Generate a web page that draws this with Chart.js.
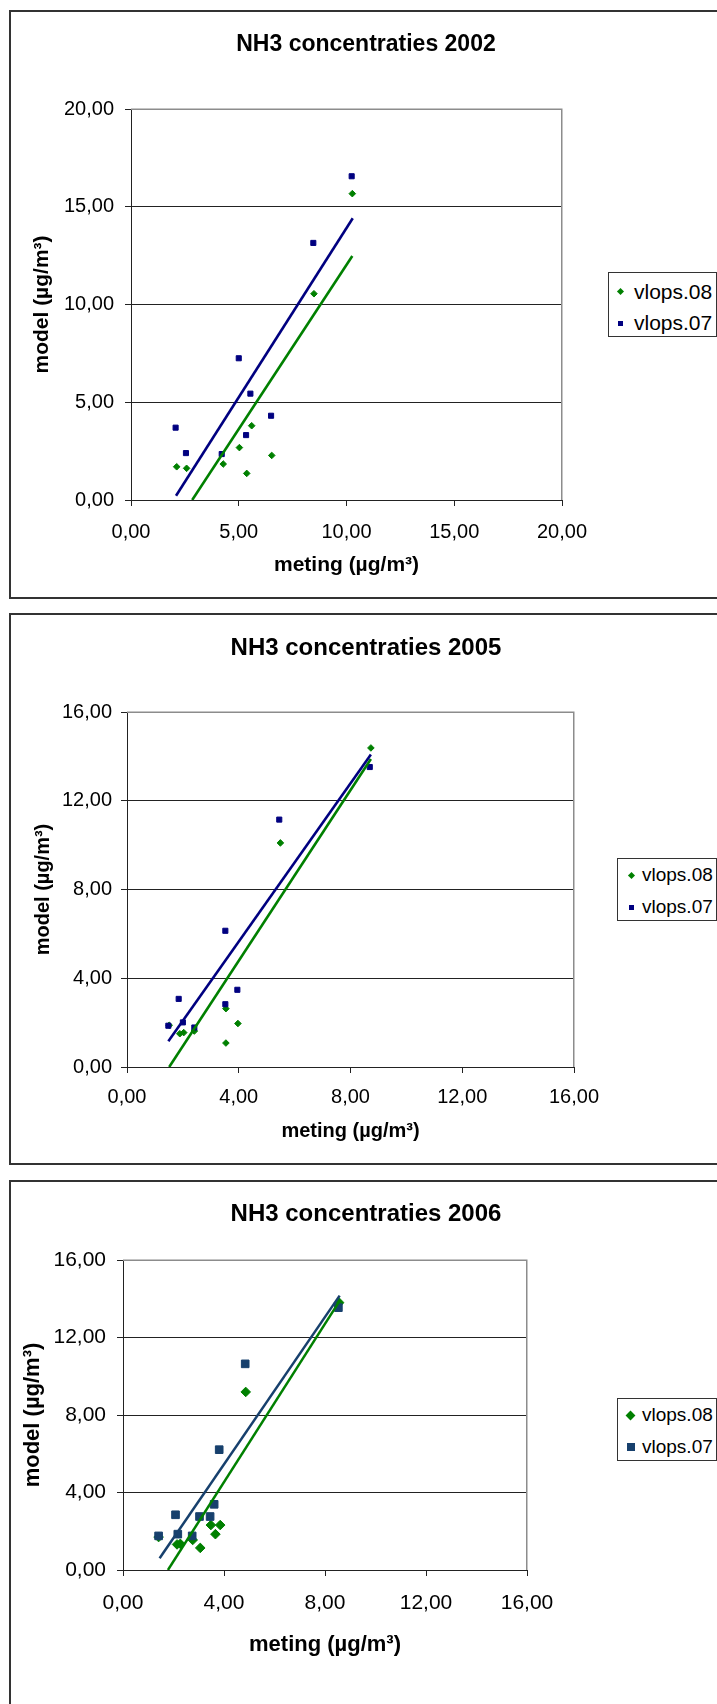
<!DOCTYPE html>
<html><head><meta charset="utf-8">
<script src="https://cdn.jsdelivr.net/npm/chart.js@4.4.1/dist/chart.umd.min.js"></script>
<style>
html,body{margin:0;padding:0;background:#fff;}
body{width:717px;height:1704px;overflow:hidden;position:relative;font-family:"Liberation Sans",Arial,sans-serif;color:#000;}
.frame{position:absolute;left:9px;width:740px;border:2px solid #333;box-sizing:border-box;}
canvas{position:absolute;left:0;}
.title{position:absolute;left:0;width:732px;text-align:center;font-weight:bold;white-space:nowrap;line-height:28px;height:28px;}
.legend{position:absolute;border:1px solid #333;box-sizing:border-box;background:#fff;}
.row{position:absolute;white-space:nowrap;line-height:24px;height:24px;}
.mk{position:absolute;}
</style>
</head><body>

<div class="frame" style="top:10px;height:589px;"></div>
<div class="frame" style="top:613px;height:552px;"></div>
<div class="frame" style="top:1180px;height:560px;"></div>

<canvas id="c2002" width="717" height="600" style="top:0px"></canvas>
<canvas id="c2005" width="717" height="570" style="top:600px"></canvas>
<canvas id="c2006" width="717" height="534" style="top:1170px"></canvas>

<div class="title" style="top:29px;font-size:23px;">NH3 concentraties 2002</div>
<div class="title" style="top:633px;font-size:24px;">NH3 concentraties 2005</div>
<div class="title" style="top:1199px;font-size:24px;">NH3 concentraties 2006</div>

<div class="legend" style="left:608px;top:272px;width:109px;height:65px;font-size:21px;">
  <div class="mk" style="left:9px;top:16px;width:5px;height:5px;background:#008000;transform:rotate(45deg);"></div>
  <div class="row" style="left:25px;top:7px;">vlops.08</div>
  <div class="mk" style="left:9px;top:48px;width:5px;height:5px;background:#000080;"></div>
  <div class="row" style="left:25px;top:38px;">vlops.07</div>
</div>
<div class="legend" style="left:617px;top:858px;width:100px;height:63px;font-size:19px;">
  <div class="mk" style="left:11px;top:14px;width:5px;height:5px;background:#008000;transform:rotate(45deg);"></div>
  <div class="row" style="left:24px;top:4px;">vlops.08</div>
  <div class="mk" style="left:11px;top:46px;width:5px;height:5px;background:#000080;"></div>
  <div class="row" style="left:24px;top:36px;">vlops.07</div>
</div>
<div class="legend" style="left:617px;top:1398px;width:100px;height:63px;font-size:19px;">
  <div class="mk" style="left:9px;top:13px;width:7px;height:7px;background:#008000;transform:rotate(45deg);"></div>
  <div class="row" style="left:24px;top:4px;">vlops.08</div>
  <div class="mk" style="left:9px;top:44px;width:8px;height:8px;background:#17406D;"></div>
  <div class="row" style="left:24px;top:36px;">vlops.07</div>
</div>

<script>
// ---------- DATA ----------
const seriesNames = ['vlops.08', 'vlops.07'];

// 2002
const x08_2002 = [2.12, 2.58, 4.28, 5.03, 5.37, 5.60, 6.53, 8.49, 10.27];
const y08_2002 = [1.70, 1.62, 1.84, 2.68, 1.36, 3.80, 2.28, 10.55, 15.67];
const x07_2002 = [2.07, 2.55, 4.21, 5.00, 5.34, 5.54, 6.50, 8.46, 10.24];
const y07_2002 = [3.70, 2.40, 2.35, 7.25, 3.32, 5.44, 4.31, 13.15, 16.56];
const trendX08_2002 = [2.84, 10.27];
const trendY08_2002 = [0.00, 12.48];
const trendX07_2002 = [2.09, 10.29];
const trendY07_2002 = [0.22, 14.41];
const ticks2002 = ['0,00', '5,00', '10,00', '15,00', '20,00'];

// 2005
const x08_2005 = [1.51, 1.89, 2.03, 2.41, 3.54, 3.54, 3.97, 5.49, 8.73];
const y08_2005 = [1.88, 1.50, 1.55, 1.62, 2.63, 1.08, 1.96, 10.10, 14.38];
const x07_2005 = [1.48, 1.85, 2.00, 2.41, 3.52, 3.52, 3.95, 5.45, 8.69];
const y07_2005 = [1.86, 3.07, 2.01, 1.78, 6.14, 2.83, 3.48, 11.15, 13.52];
const trendX08_2005 = [1.51, 8.73];
const trendY08_2005 = [0.00, 13.88];
const trendX07_2005 = [1.48, 8.73];
const trendY07_2005 = [1.16, 14.08];
const ticks2005 = ['0,00', '4,00', '8,00', '12,00', '16,00'];

// 2006
const x08_2006 = [1.41, 2.14, 2.27, 2.76, 3.06, 3.48, 3.66, 3.85, 4.86, 8.56];
const y08_2006 = [1.70, 1.32, 1.35, 1.55, 1.14, 2.32, 1.85, 2.32, 9.19, 13.80];
const x07_2006 = [1.41, 2.08, 2.17, 2.74, 3.03, 3.45, 3.61, 3.81, 4.84, 8.53];
const y07_2006 = [1.76, 2.85, 1.85, 1.76, 2.76, 2.76, 3.39, 6.21, 10.64, 13.54];
const trendX08_2006 = [1.78, 8.58];
const trendY08_2006 = [0.00, 13.89];
const trendX07_2006 = [1.45, 8.58];
const trendY07_2006 = [0.61, 14.16];
const ticks2006 = ['0,00', '4,00', '8,00', '12,00', '16,00'];

const xTitle = 'meting (µg/m³)';
const yTitle = 'model (µg/m³)';

// ---------- DRAWING ----------
Chart.defaults.font.family = '"Liberation Sans", Arial, sans-serif';
Chart.defaults.color = '#000';

function pts(xs, ys) { return xs.map((x, i) => ({x: x, y: ys[i]})); }

const borderPlugin = {
  id: 'plotBorder',
  afterDraw(chart) {
    const a = chart.chartArea, c = chart.ctx;
    c.save();
    c.strokeStyle = '#8c8c8c';
    c.lineWidth = 1.5;
    c.beginPath();
    c.moveTo(a.left, a.top + 0.25);
    c.lineTo(a.right - 0.25, a.top + 0.25);
    c.lineTo(a.right - 0.25, a.bottom);
    c.stroke();
    c.restore();
  }
};

function makeChart(id, o) {
  const canvas = document.getElementById(id);
  const H = canvas.height;
  const axisCommon = {
    type: 'linear', min: 0, max: o.max,
    border: {display: true, color: '#222', width: 1}
  };
  new Chart(canvas, {
    type: 'scatter',
    data: {
      datasets: [
        {label: seriesNames[1] + ' trend', data: pts(o.tx07, o.ty07), showLine: true,
         borderColor: o.c07, borderWidth: o.lw, pointRadius: 0, fill: false},
        {label: seriesNames[0] + ' trend', data: pts(o.tx08, o.ty08), showLine: true,
         borderColor: o.c08, borderWidth: o.lw, pointRadius: 0, fill: false},
        {label: seriesNames[1], data: pts(o.x07, o.y07), pointStyle: 'rect',
         pointRadius: o.rSq, backgroundColor: o.c07, borderColor: o.c07, borderWidth: 1},
        {label: seriesNames[0], data: pts(o.x08, o.y08), pointStyle: 'rectRot',
         pointRadius: o.rDi, backgroundColor: o.c08, borderColor: o.c08, borderWidth: 1}
      ]
    },
    options: {
      responsive: false, animation: false, devicePixelRatio: 1,
      layout: {padding: {left: 0, right: 717 - o.R, top: o.T, bottom: 0}},
      plugins: {legend: {display: false}, tooltip: {enabled: false}, title: {display: false}},
      scales: {
        x: Object.assign({}, axisCommon, {
          position: 'bottom',
          grid: {drawOnChartArea: false, drawTicks: true, tickLength: 6, tickColor: '#222'},
          ticks: {stepSize: o.step, padding: o.xPad, font: {size: o.tickSize},
                  maxRotation: 0, callback: (v, i) => o.labels[i]},
          title: {display: true, text: xTitle, font: {size: o.titleSize, weight: 'bold'},
                  padding: {top: 0, bottom: o.xTitlePad}},
          afterFit: s => { s.height = H - o.B; }
        }),
        y: Object.assign({}, axisCommon, {
          position: 'left',
          grid: {drawTicks: true, tickLength: 6, tickColor: '#222', lineWidth: 1,
                 color: c => (c.tick && c.tick.value === o.max) ? 'rgba(0,0,0,0)' : '#222'},
          ticks: {stepSize: o.step, padding: o.yPad, font: {size: o.tickSize},
                  callback: (v, i) => o.labels[i]},
          title: {display: true, text: yTitle, font: {size: o.titleSize, weight: 'bold'},
                  padding: {top: o.yTitlePad, bottom: 0}},
          afterFit: s => { s.width = o.L; }
        })
      }
    },
    plugins: [borderPlugin]
  });
}

makeChart('c2002', {
  L: 131, R: 562, T: 109, B: 500, max: 20, step: 5, labels: ticks2002,
  tickSize: 20, xPad: 14, yPad: 11, titleSize: 21, yTitlePad: 30, xTitlePad: 22,
  c08: '#008000', c07: '#000080', lw: 2.6, rSq: 3.6, rDi: 3.3,
  x08: x08_2002, y08: y08_2002, x07: x07_2002, y07: y07_2002,
  tx08: trendX08_2002, ty08: trendY08_2002, tx07: trendX07_2002, ty07: trendY07_2002
});
makeChart('c2005', {
  L: 127, R: 574, T: 112, B: 467, max: 16, step: 4, labels: ticks2005,
  tickSize: 20, xPad: 12, yPad: 9, titleSize: 20, yTitlePad: 31, xTitlePad: 27,
  c08: '#008000', c07: '#000080', lw: 2.6, rSq: 3.6, rDi: 3.3,
  x08: x08_2005, y08: y08_2005, x07: x07_2005, y07: y07_2005,
  tx08: trendX08_2005, ty08: trendY08_2005, tx07: trendX07_2005, ty07: trendY07_2005
});
makeChart('c2006', {
  L: 123, R: 527, T: 90, B: 400, max: 16, step: 4, labels: ticks2006,
  tickSize: 21, xPad: 15, yPad: 11, titleSize: 22, yTitlePad: 20, xTitlePad: 46,
  c08: '#008000', c07: '#17406D', lw: 2.5, rSq: 5.4, rDi: 4.8,
  x08: x08_2006, y08: y08_2006, x07: x07_2006, y07: y07_2006,
  tx08: trendX08_2006, ty08: trendY08_2006, tx07: trendX07_2006, ty07: trendY07_2006
});
</script>
</body></html>
